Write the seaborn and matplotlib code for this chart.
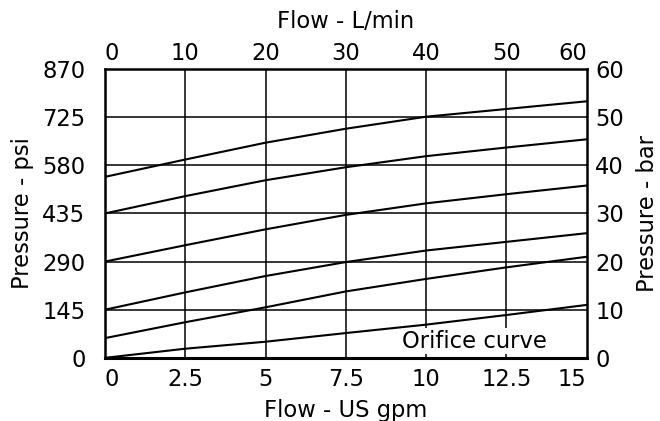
import pandas as pd
import numpy as np
import matplotlib
matplotlib.use("Agg")
import matplotlib.pyplot as plt
import seaborn as sns

# ================= data =================
FLOW_GPM = [0, 2.5, 5, 7.5, 10, 12.5, 15]
# pressure in bar for each curve, top to bottom
CURVE_1 = [37.6, 41.2, 44.7, 47.6, 50.1, 51.7, 53.3]
CURVE_2 = [30.0, 33.6, 36.9, 39.6, 41.9, 43.7, 45.4]
CURVE_3 = [20.0, 23.4, 26.7, 29.7, 32.1, 34.0, 35.8]
CURVE_4 = [10.0, 13.6, 17.0, 19.9, 22.3, 24.1, 25.9]
CURVE_5 = [4.1, 7.4, 10.5, 13.8, 16.4, 18.8, 21.0]
ORIFICE = [0.0, 1.9, 3.35, 5.15, 6.9, 8.9, 11.0]

GPM_TICKS = [0, 2.5, 5, 7.5, 10, 12.5, 15]
GPM_LABELS = ["0", "2.5", "5", "7.5", "10", "12.5", "15"]
LPM_TICKS = [0, 10, 20, 30, 40, 50, 60]
BAR_TICKS = [0, 10, 20, 30, 40, 50, 60]
PSI_LABELS = ["0", "145", "290", "435", "580", "725", "870"]

# ================= style =================
sns.set_style("white")
plt.rcParams['font.family'] = ['DejaVu Sans']
plt.rcParams['font.size'] = 16.3
plt.rcParams['text.color'] = 'black'
plt.rcParams['axes.labelcolor'] = 'black'
plt.rcParams['xtick.color'] = 'black'
plt.rcParams['ytick.color'] = 'black'

curves = {"c1": CURVE_1, "c2": CURVE_2, "c3": CURVE_3,
          "c4": CURVE_4, "c5": CURVE_5, "orifice": ORIFICE}
rows = []
for name, vals in curves.items():
    for x, y in zip(FLOW_GPM, vals):
        rows.append({"curve": name, "gpm": x, "bar": y})
df = pd.DataFrame(rows)

fig, ax = plt.subplots(figsize=(6.6, 4.21), dpi=100)
fig.subplots_adjust(left=0.159, right=0.889, top=0.836, bottom=0.150)

sns.lineplot(data=df, x="gpm", y="bar", hue="curve",
             palette=["black"] * len(curves), linewidth=1.5,
             legend=False, ax=ax, zorder=4)

ax.set_xlim(0, 15)
ax.set_ylim(0, 60)

# grid
for x in GPM_TICKS[1:-1]:
    ax.axvline(x, color="black", linewidth=1.1, zorder=1)
for y in BAR_TICKS[1:-1]:
    ax.axhline(y, color="black", linewidth=1.1, zorder=1)

for s in ax.spines.values():
    s.set_color("black")
    s.set_linewidth(1.8)
    s.set_zorder(5)
ax.spines["bottom"].set_linewidth(2.2)

# bottom axis (gpm)
ax.set_xticks(GPM_TICKS)
ax.set_xticklabels(GPM_LABELS)
ax.set_xlabel("Flow - US gpm", labelpad=6)
ax.tick_params(axis="x", length=0, pad=7)
xl = ax.get_xticklabels()
xl[0].set_ha("left")
xl[-1].set_ha("right")

# right axis (bar)
ax.yaxis.tick_right()
ax.yaxis.set_label_position("right")
ax.set_yticks(BAR_TICKS)
ax.set_ylabel("Pressure - bar", labelpad=9)
ax.tick_params(axis="y", length=0, pad=6)

# left axis (psi)
ax_psi = ax.secondary_yaxis("left")
ax_psi.set_yticks(BAR_TICKS)
ax_psi.set_yticklabels(PSI_LABELS)
ax_psi.set_ylabel("Pressure - psi", labelpad=6)
ax_psi.tick_params(length=0, pad=14)
ax_psi.spines["left"].set_visible(False)

# top axis (L/min)
ax_lpm = ax.secondary_xaxis("top", functions=(lambda g: g * 4, lambda l: l / 4))
ax_lpm.set_xticks(LPM_TICKS)
ax_lpm.set_xlabel("Flow - L/min", labelpad=10)
ax_lpm.tick_params(length=0, pad=3)
ax_lpm.spines["top"].set_visible(False)
tl = ax_lpm.get_xticklabels()
tl[0].set_ha("left")
tl[-1].set_ha("right")

ax.text(11.5, 3.45, "Orifice curve", ha="center", va="center", fontsize=16.3,
        zorder=3, bbox=dict(facecolor="white", edgecolor="none", pad=1))

plt.savefig("out.png", dpi=100)
